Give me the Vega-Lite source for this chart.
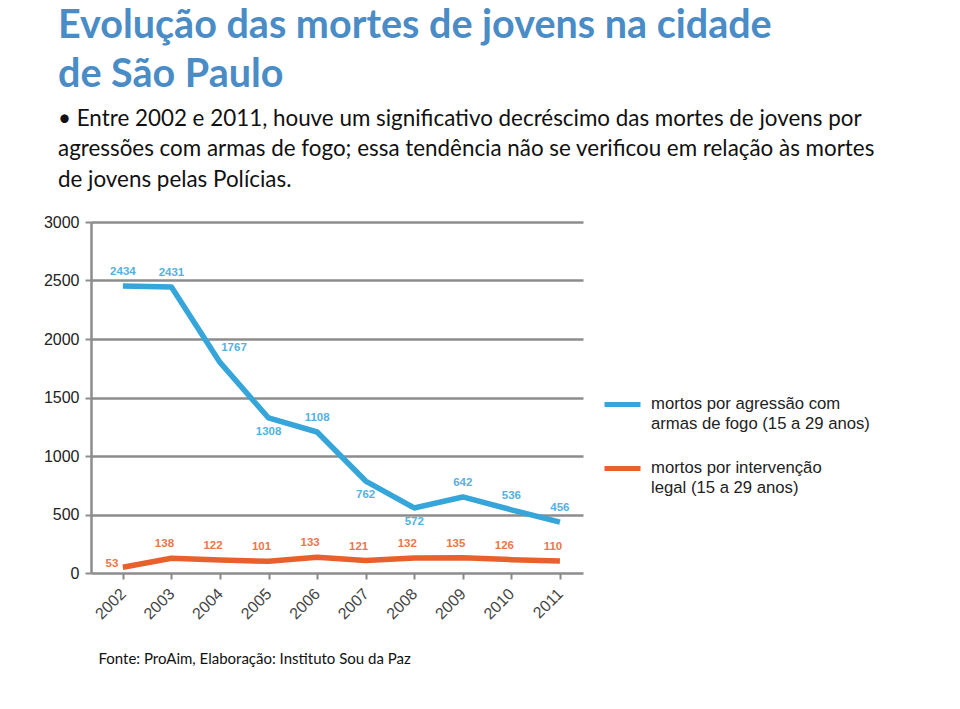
{
  "$schema": "https://vega.github.io/schema/vega-lite/v6.json",
  "width": 492,
  "height": 351,
  "autosize": {"type": "none"},
  "padding": {"left": 91, "top": 222, "right": 377, "bottom": 136},
  "background": "white",
  "title": {
    "text": ["Evolução das mortes de jovens na cidade", "de São Paulo"],
    "subtitle": ["• Entre 2002 e 2011, houve um significativo decréscimo das mortes de jovens por", "agressões com armas de fogo; essa tendência não se verificou em relação às mortes", "de jovens pelas Polícias."],
    "anchor": "start",
    "frame": "group",
    "dx": -33,
    "offset": 22,
    "font": "Lato",
    "fontSize": 39.5,
    "fontWeight": "bold",
    "color": "#4A8CC6",
    "lineHeight": 49,
    "subtitleFont": "Lato",
    "subtitleFontSize": 22.4,
    "subtitleColor": "#111111",
    "subtitleLineHeight": 30.5,
    "subtitlePadding": 12
  },
  "config": {
    "view": {"stroke": null},
    "font": "Liberation Sans"
  },
  "data": {
    "values": [
      {"ano": "2002", "serie": "agressao", "valor": 2434, "plotado": 2452, "pos": "acima"},
      {"ano": "2003", "serie": "agressao", "valor": 2431, "plotado": 2445, "pos": "acima"},
      {"ano": "2004", "serie": "agressao", "valor": 1767, "plotado": 1800, "pos": "direita"},
      {"ano": "2005", "serie": "agressao", "valor": 1308, "plotado": 1325, "pos": "abaixo"},
      {"ano": "2006", "serie": "agressao", "valor": 1108, "plotado": 1205, "pos": "acima"},
      {"ano": "2007", "serie": "agressao", "valor": 762, "plotado": 786, "pos": "abaixo"},
      {"ano": "2008", "serie": "agressao", "valor": 572, "plotado": 556, "pos": "abaixo"},
      {"ano": "2009", "serie": "agressao", "valor": 642, "plotado": 650, "pos": "acima"},
      {"ano": "2010", "serie": "agressao", "valor": 536, "plotado": 540, "pos": "acima"},
      {"ano": "2011", "serie": "agressao", "valor": 456, "plotado": 435, "pos": "acima"},
      {"ano": "2002", "serie": "intervencao", "valor": 53, "plotado": 49, "pos": "esquerda"},
      {"ano": "2003", "serie": "intervencao", "valor": 138, "plotado": 126, "pos": "acima"},
      {"ano": "2004", "serie": "intervencao", "valor": 122, "plotado": 112, "pos": "acima"},
      {"ano": "2005", "serie": "intervencao", "valor": 101, "plotado": 100, "pos": "acima"},
      {"ano": "2006", "serie": "intervencao", "valor": 133, "plotado": 134, "pos": "acima"},
      {"ano": "2007", "serie": "intervencao", "valor": 121, "plotado": 106, "pos": "acima"},
      {"ano": "2008", "serie": "intervencao", "valor": 132, "plotado": 129, "pos": "acima"},
      {"ano": "2009", "serie": "intervencao", "valor": 135, "plotado": 131, "pos": "acima"},
      {"ano": "2010", "serie": "intervencao", "valor": 126, "plotado": 114, "pos": "acima"},
      {"ano": "2011", "serie": "intervencao", "valor": 110, "plotado": 103, "pos": "acima"}
    ]
  },
  "encoding": {
    "x": {
      "field": "ano",
      "type": "ordinal",
      "scale": {"type": "point", "padding": 0.566, "align": 0.58},
      "axis": {
        "title": "Fonte: ProAim, Elaboração: Instituto Sou da Paz",
        "titleFont": "Lato",
        "titleFontSize": 15,
        "titleFontWeight": "normal",
        "titleColor": "#111111",
        "titleAnchor": "start",
        "titleAlign": "left",
        "titleX": 7,
        "titleY": 78,
        "labelAngle": -45,
        "labelAlign": "right",
        "labelBaseline": "middle",
        "labelFontSize": 16,
        "labelColor": "#444444",
        "labelPadding": 12,
        "domain": false,
        "ticks": true,
        "tickColor": "#888888",
        "tickWidth": 2,
        "tickSize": 6,
        "grid": false
      }
    },
    "y": {
      "field": "plotado",
      "type": "quantitative",
      "scale": {"domain": [0, 3000], "nice": false},
      "axis": {
        "title": null,
        "format": "d",
        "values": [0, 500, 1000, 1500, 2000, 2500, 3000],
        "labelFontSize": 16,
        "labelColor": "#222222",
        "labelPadding": 6,
        "grid": true,
        "gridColor": "#8c8c8c",
        "gridWidth": 2.5,
        "domainColor": "#8c8c8c",
        "domainWidth": 2.5,
        "tickColor": "#8c8c8c",
        "tickWidth": 2,
        "tickSize": 6
      }
    }
  },
  "layer": [
    {
      "mark": {"type": "line", "strokeWidth": 5.5, "strokeCap": "butt", "strokeJoin": "round"},
      "encoding": {
        "color": {
          "field": "serie",
          "type": "nominal",
          "scale": {"domain": ["agressao", "intervencao"], "range": ["#36A5DA", "#E8602B"]},
          "legend": {
            "orient": "none",
            "legendX": 511,
            "legendY": 162,
            "title": null,
            "symbolType": "stroke",
            "symbolStrokeWidth": 5,
            "symbolSize": 1296,
            "labelFont": "Liberation Sans",
            "labelFontSize": 16.7,
            "labelColor": "#222222",
            "labelLimit": 400,
            "labelOffset": 8,
            "labelBaseline": "top",
            "rowPadding": 15,
            "labelExpr": "datum.label == 'agressao' ? ['mortos por agressão com', 'armas de fogo (15 a 29 anos)'] : ['mortos por intervenção', ' legal (15 a 29 anos)']",
            "encode": {
              "labels": {"update": {"dy": {"value": -9}, "lineHeight": {"value": 20}}}
            }
          }
        }
      }
    },
    {
      "mark": {
        "type": "text",
        "fontSize": 11.5,
        "fontWeight": "bold",
        "font": "Liberation Sans",
        "dx": {"expr": "datum.pos == 'direita' ? 14 : datum.pos == 'esquerda' ? -11 : datum.serie == 'intervencao' ? -7 : 0"},
        "dy": {"expr": "datum.pos == 'abaixo' ? 14 : datum.pos == 'esquerda' ? -3 : -14"}
      },
      "encoding": {
        "text": {"field": "valor", "type": "quantitative"},
        "color": {
          "field": "serie",
          "type": "nominal",
          "scale": {"domain": ["agressao", "intervencao"], "range": ["#36A5DA", "#E8602B"]},
          "legend": null
        },
        "opacity": {"value": 0.85}
      }
    }
  ]
}
